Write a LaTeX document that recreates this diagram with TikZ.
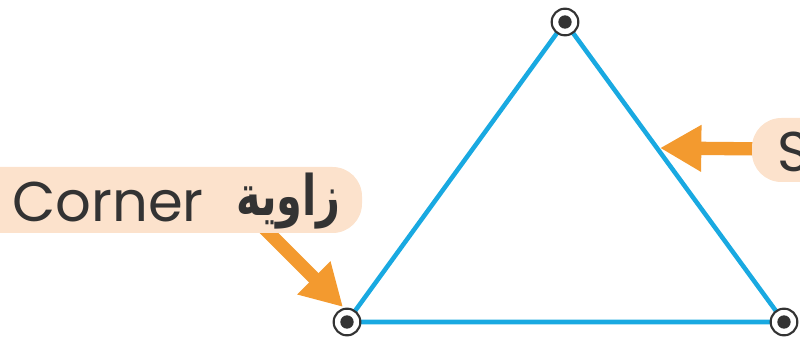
\documentclass[tikz,border=0pt]{standalone}
\usepackage{fontspec}
\usepackage{graphicx}
\setmainfont{Poppins}
\newfontfamily\arabicfont[Script=Arabic]{DejaVu Sans}
\TeXXeTstate=1
\usetikzlibrary{arrows.meta}
\definecolor{triblue}{HTML}{19A9E1}
\definecolor{arroworange}{HTML}{F39A2F}
\definecolor{peach}{HTML}{FCE2CC}
\definecolor{darktext}{HTML}{333333}
\begin{document}
\begin{tikzpicture}[x=0.75pt,y=-0.75pt,
  triline/.style={draw=triblue, line width=3.4pt, line join=round},
  pointer/.style={draw=arroworange, line width=10pt, -{Triangle[length=31pt,width=33pt]}},
  labelbox/.style={fill=peach, rounded corners=22pt},
  vertexring/.style={circle, draw=darktext, line width=1.6pt, fill=white, minimum size=20pt, inner sep=0pt},
  vertexdot/.style={circle, fill=darktext, minimum size=10pt, inner sep=0pt},
  labeltext/.style={inner sep=0pt, text=darktext, font=\fontsize{42}{48}\selectfont}
]
\useasboundingbox (0,0) rectangle (800,338);
\clip (0,0) rectangle (800,338);
% vertices
\coordinate (A) at (565,22);
\coordinate (B) at (347,322);
\coordinate (C) at (784,322);
\draw[triline] (A) -- (B) -- (C) -- cycle;
% arrows
\coordinate (cornerfrom) at (258,222);
\coordinate (cornertip) at (343,307);
\coordinate (sidefrom) at (770,149);
\coordinate (sidetip) at (660,148);
\draw[pointer] (cornerfrom) -- (cornertip);
\draw[pointer] (sidefrom) -- (sidetip);
% label boxes
\path[labelbox] (-40,167) rectangle (362,233);
\path[labelbox] (752,118) rectangle (860,182);
% texts
\node[labeltext, anchor=base west] (corner) at (12,222) {Corner};
\node[anchor=base east, inner sep=0pt, text=darktext, font=\arabicfont\bfseries\fontsize{42}{46}\selectfont] (zawiya) at (341,216) {\scalebox{0.74}[1]{\beginR زاوية\endR}};
\node[labeltext, anchor=base west] (side) at (777,172) {S};
% vertex markers
\foreach \v in {A,B,C}{
  \node[vertexring] (\v ring) at (\v) {};
  \node[vertexdot] (\v dot) at (\v) {};
}
\end{tikzpicture}
\end{document}
